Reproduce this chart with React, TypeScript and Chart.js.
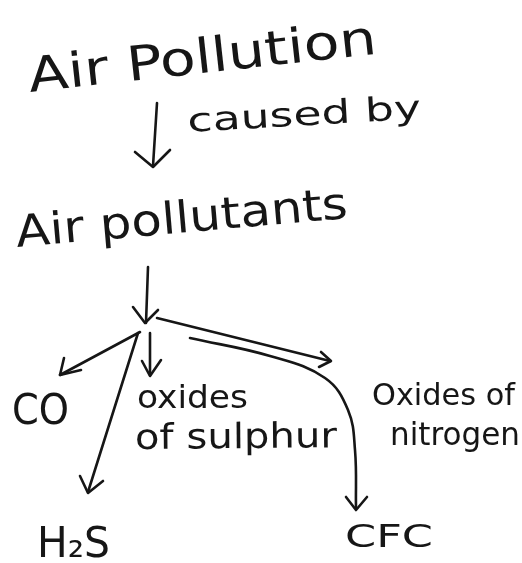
import React, { useEffect, useRef } from "react";
import { Chart, registerables } from "chart.js";

Chart.register(...registerables);

// Diagram space: x 0..522 (left→right), y 0..563 (top→bottom)
const labelTexts = [
  "Air Pollution",
  "caused by",
  "Air pollutants",
  "CO",
  "oxides",
  "of sulphur",
  "Oxides of",
  "nitrogen",
  "H₂S",
  "CFC",
];
const labelX = [30, 188, 17, 12, 137, 135, 372, 390, 37, 345];
const labelY = [92, 132, 247, 424, 408, 449, 405, 445, 557, 547];

// Arrows: shaft polyline + head [leg, tip, leg]
const arrowShafts: number[][][] = [
  [[157, 103], [153, 166]],
  [[148, 267], [146, 323]],
  [[140, 332], [60, 375]],
  [[150, 333], [150, 375]],
  [[138, 333], [88, 492]],
  [[157, 318], [330, 361]],
  [[190, 338], [270, 356], [325, 378], [348, 410], [355, 450], [356, 508]],
];
const arrowHeads: number[][][] = [
  [[135, 152], [153, 167], [170, 150]],
  [[133, 307], [145, 323], [158, 310]],
  [[64, 358], [60, 375], [81, 370]],
  [[142, 361], [150, 376], [161, 360]],
  [[80, 476], [88, 493], [103, 481]],
  [[321, 352], [331, 361], [319, 367]],
  [[346, 497], [356, 510], [367, 497]],
];

// Styles (not data)
const labelStyle = [
  { size: 48, w: 350, rot: -6.3 },
  { size: 33, w: 234, rot: -3.3 },
  { size: 44, w: 333, rot: -5 },
  { size: 42, w: 57, rot: 0 },
  { size: 32, w: 111, rot: 0 },
  { size: 35, w: 202, rot: -0.5 },
  { size: 31, w: 143, rot: 0 },
  { size: 32, w: 130, rot: 0 },
  { size: 42, w: 73, rot: 0 },
  { size: 32, w: 88, rot: 0 },
];
const INK = "#161616";

const textPlugin = {
  id: "handText",
  afterDatasetsDraw(chart: any) {
    const { ctx } = chart;
    const xs = chart.scales.x;
    const ys = chart.scales.y;
    labelTexts.forEach((t, i) => {
      const st = labelStyle[i];
      ctx.save();
      ctx.translate(xs.getPixelForValue(labelX[i]), ys.getPixelForValue(labelY[i]));
      ctx.rotate((st.rot * Math.PI) / 180);
      ctx.font = `${st.size}px "DejaVu Sans"`;
      ctx.textAlign = "left";
      ctx.textBaseline = "alphabetic";
      const m = ctx.measureText(t).width;
      ctx.scale(st.w / m, 1);
      ctx.fillStyle = INK;
      ctx.fillText(t, 0, 0);
      ctx.restore();
    });
  },
};

export default function App() {
  const ref = useRef<HTMLCanvasElement>(null);
  useEffect(() => {
    document.body.style.margin = "0";
    const toPts = (a: number[][]) => a.map(([x, y]) => ({ x, y }));
    const base = {
      showLine: true,
      borderColor: INK,
      borderWidth: 2.6,
      pointRadius: 0,
      fill: false,
      borderCapStyle: "round",
      borderJoinStyle: "round",
      clip: false,
    };
    const datasets: any[] = [];
    arrowShafts.forEach((s, i) => {
      datasets.push({ ...base, data: toPts(s), tension: s.length > 2 ? 0.4 : 0 });
      datasets.push({ ...base, data: toPts(arrowHeads[i]), tension: 0 });
    });
    const chart = new Chart(ref.current as HTMLCanvasElement, {
      type: "scatter",
      data: { datasets },
      options: {
        responsive: false,
        animation: false,
        events: [],
        layout: { padding: 0 },
        plugins: { legend: { display: false }, tooltip: { enabled: false } },
        scales: {
          x: { type: "linear", display: false, min: 0, max: 522 },
          y: { type: "linear", display: false, min: 0, max: 563, reverse: true },
        },
      } as any,
      plugins: [textPlugin],
    });
    return () => chart.destroy();
  }, []);
  return (
    <div style={{ position: "fixed", left: 0, top: 0, width: 522, height: 563, background: "#fff" }}>
      <canvas ref={ref} width={522} height={563} style={{ display: "block" }} />
    </div>
  );
}
